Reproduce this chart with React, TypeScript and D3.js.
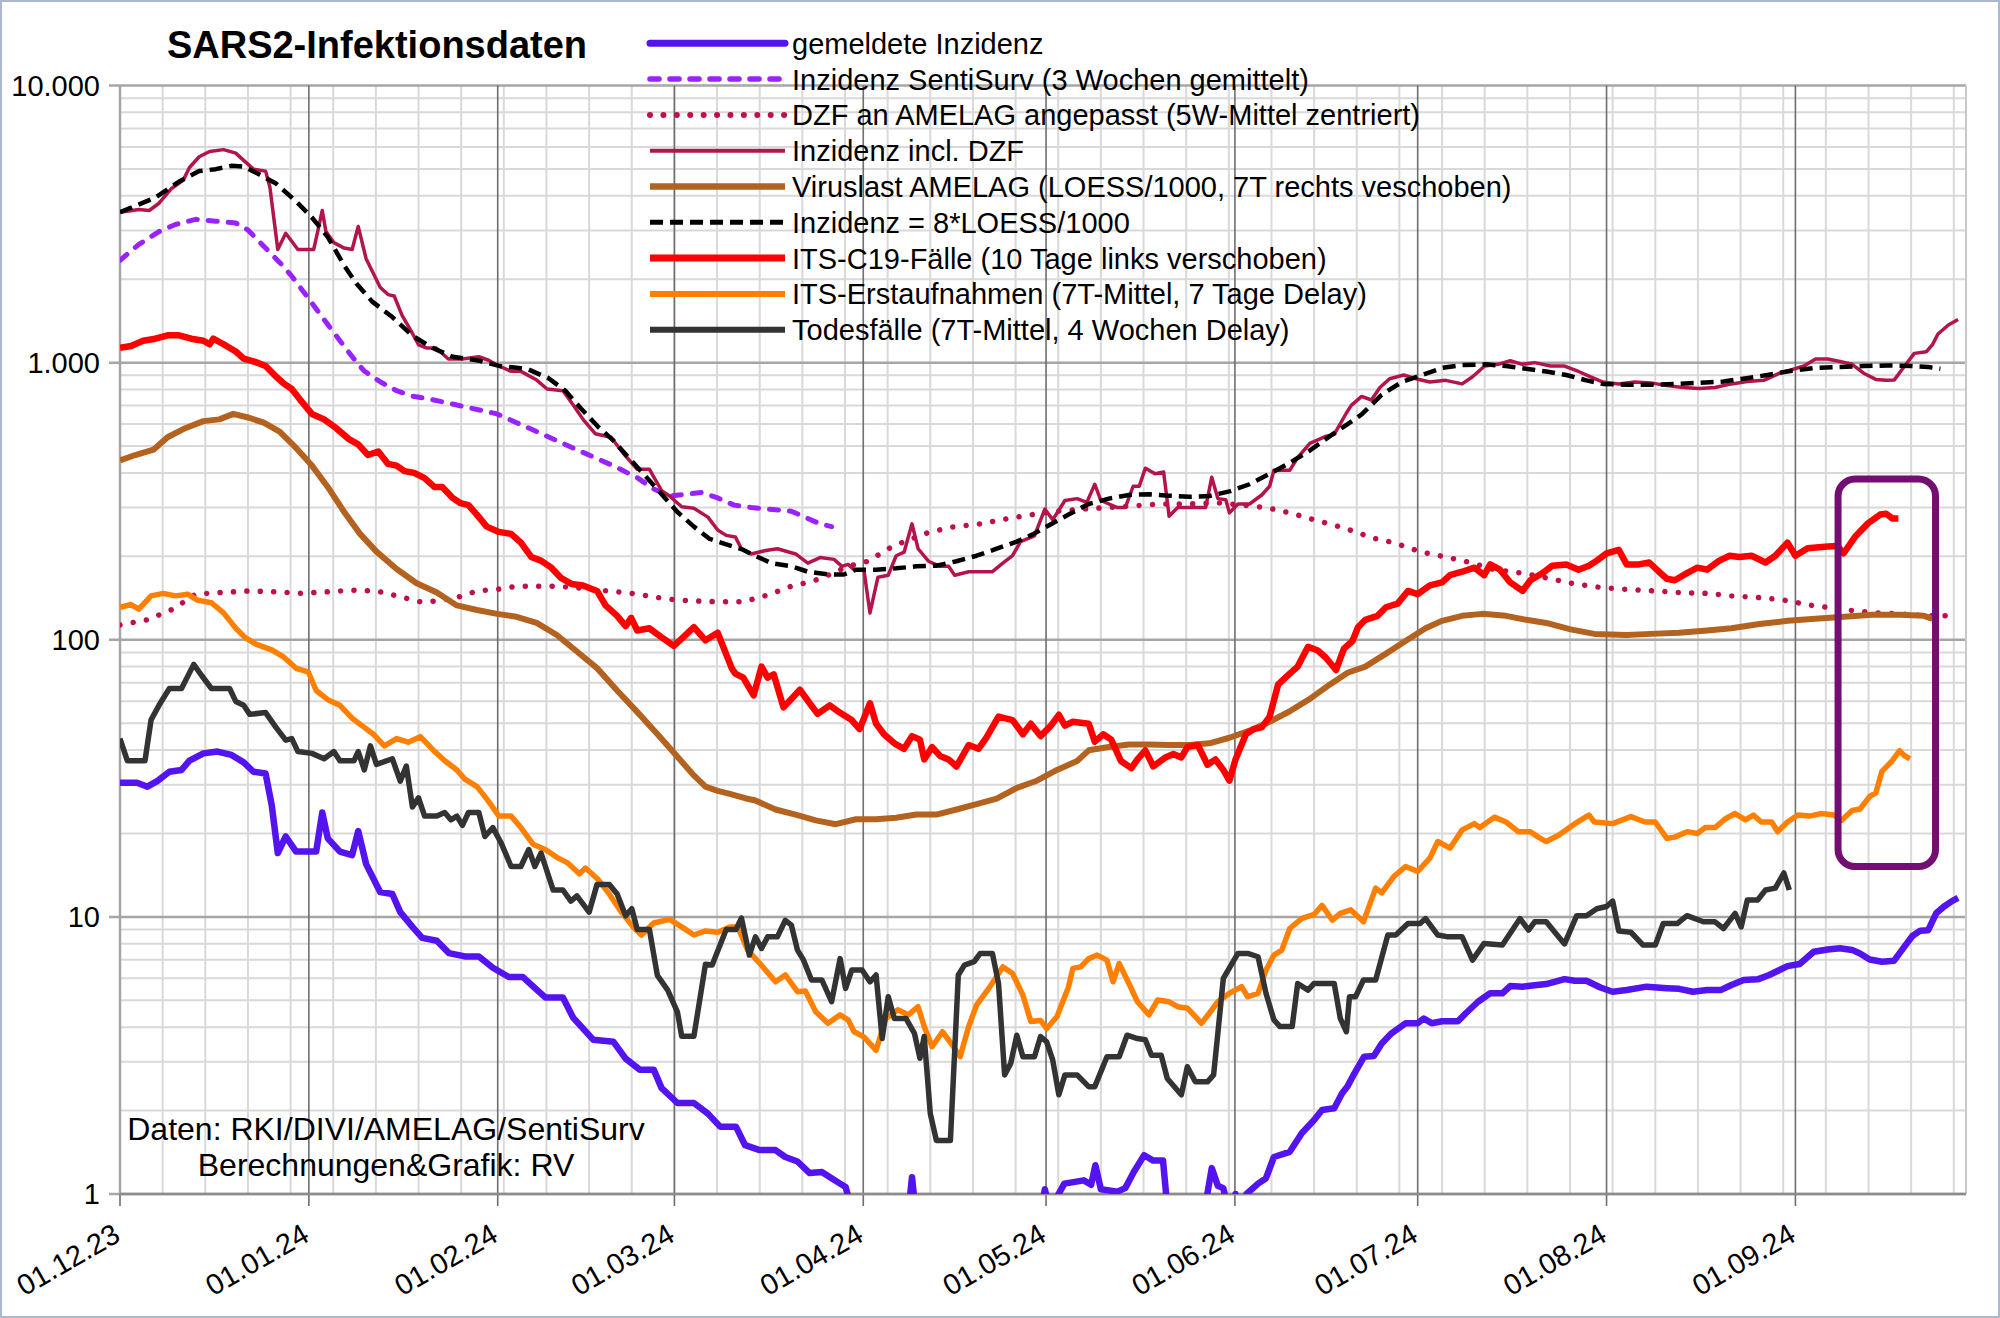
import React from "react";
import * as d3 from "d3";

// ---------- data (day offset from 01.12.2023, value per 100k) ----------
const START = new Date(2023, 11, 1);
const END_DAY = 303;

const yTicks = [1, 10, 100, 1000, 10000];
const yTickLabels = ["1", "10", "100", "1.000", "10.000"];

const titleText = "SARS2-Infektionsdaten";
const footLines = ["Daten: RKI/DIVI/AMELAG/SentiSurv", "Berechnungen&Grafik: RV"];

const legendLabels = [
  "gemeldete Inzidenz",
  "Inzidenz SentiSurv (3 Wochen gemittelt)",
  "DZF an AMELAG angepasst (5W-Mittel zentriert)",
  "Inzidenz incl. DZF",
  "Viruslast AMELAG (LOESS/1000, 7T rechts veschoben)",
  "Inzidenz = 8*LOESS/1000",
  "ITS-C19-Fälle (10 Tage links verschoben)",
  "ITS-Erstaufnahmen (7T-Mittel, 7 Tage Delay)",
  "Todesfälle (7T-Mittel, 4 Wochen Delay)",
];

const gemeldet: [number, number][] = [
  [0,30.5],[2.8,30.5],[4.5,29.5],[6.1,30.9],[8.1,33.4],[10.1,33.9],[11.4,36.6],[13.7,38.9],[16,39.5],[18.3,38.4],
  [20.3,36.1],[21.9,33.4],[23.9,32.9],[24.9,25.3],[25.9,17.0],[27.2,19.5],[28.9,17.2],[32.2,17.2],[33.2,23.8],[34.1,19.2],
  [36.1,17.2],[38.1,16.7],[39.1,20.4],[40.4,15.5],[42.7,12.3],[44.7,12.1],[46,10.4],[48,9.2],[49.6,8.4],[52,8.2],
  [54,7.4],[56.6,7.2],[58.9,7.2],[61.2,6.55],[63.8,6.07],[66.1,6.07],[67.8,5.61],[69.8,5.12],[72.7,5.12],[74.4,4.32],
  [77.7,3.6],[81,3.54],[83,3.08],[85.3,2.81],[87.6,2.81],[88.9,2.41],[91.5,2.13],[94.2,2.13],[96.5,1.95],[98.5,1.75],
  [101.1,1.75],[102.6,1.5],[105,1.44],[107.6,1.44],[109.2,1.36],[111.2,1.31],[113.2,1.19],[115.2,1.2],[116.8,1.14],[118.2,1.09],
  [119.1,1.06],[120,0.9],[121,0.6],[128,0.6],[129.5,0.9],[130,1.15],[130.5,0.9],[131.5,0.6],[150,0.6],[151.3,0.9],
  [151.8,1.04],[152.5,0.9],[153.5,0.95],[155,1.09],[158.2,1.12],[159.4,1.08],[160.1,1.27],[161,1.04],[163.7,1.02],[165,1.05],
  [166.4,1.2],[168.1,1.38],[169.6,1.32],[171.2,1.32],[171.9,0.9],[172.5,0.6],[177.5,0.6],[178.3,0.95],[179.2,1.24],[180.2,1.07],
  [181.1,1.05],[181.8,0.9],[182.5,0.8],[183.1,1.0],[183.7,0.8],[184.5,0.9],[184.9,1.0],[186.8,1.09],[188.1,1.14],[189.4,1.36],
  [192,1.42],[194,1.66],[196,1.85],[197.3,2.01],[199.3,2.04],[200.6,2.31],[201.5,2.45],[202.6,2.72],[204.2,3.13],[205.8,3.15],
  [207.1,3.49],[208.7,3.8],[211,4.13],[213,4.13],[214,4.3],[215.3,4.13],[217,4.2],[219.6,4.2],[220.9,4.49],[222.9,4.94],
  [224.9,5.3],[226.9,5.3],[228.2,5.63],[230.2,5.6],[232.2,5.67],[234.1,5.72],[237.1,5.96],[238.8,5.88],[240.7,5.88],[243,5.56],
  [245,5.37],[247.3,5.45],[250.6,5.6],[253.9,5.53],[255.9,5.5],[258.2,5.37],[260.5,5.45],[262.8,5.45],[264.5,5.68],[266.5,5.92],
  [268.8,5.95],[270.7,6.17],[272.4,6.43],[273.7,6.64],[275.7,6.76],[278,7.48],[280.3,7.63],[282.3,7.7],[284.3,7.6],[285.6,7.38],
  [287.2,7.02],[289.2,6.89],[291.2,6.95],[292.5,7.6],[294.2,8.53],[295.5,8.92],[296.8,8.95],[298.1,10.3],[299.4,10.9],[300.7,11.4],
  [301.7,11.7],
];

const sentiSurv: [number, number][] = [
  [0,2340],[3.1,2670],[6.4,2970],[9.1,3150],[12.4,3290],[15.7,3240],[19,3190],[21,3010],[23.6,2630],[26.2,2300],
  [28.2,2050],[30.9,1710],[33.5,1430],[36.1,1200],[38.8,1004],[40.1,933],[42.7,853],[45.4,792],[48,757],[51.3,735],
  [55.3,703],[59.2,673],[61.9,653],[65.1,607],[68.4,564],[71.7,523],[75,485],[78.3,451],[81.6,418],[85,383],
  [87.6,350],[90.2,330],[92.9,335],[95.5,340],[98.1,325],[100.8,306],[103.6,300],[106.3,296],[110.2,291],[112.9,274],
  [114.9,262],[116.8,256],
];

const dzf: [number, number][] = [
  [0,113],[4.5,118],[8.7,129],[12.4,146],[16.3,148],[21,150],[25.6,149],[29.5,147],[34.1,149],[38.1,151],
  [42.1,150],[45.4,144],[49.3,137],[52,138],[55.3,142],[58.6,150],[61.9,152],[65.1,156],[71.7,156],[75,154],
  [78.3,151],[81.6,149],[85,146],[88.3,142],[91.5,139],[94.8,138],[98.1,137],[102.3,137],[106.3,145],[110.2,156],
  [112.9,161],[114.9,166],[119.5,184],[122.8,192],[126.1,213],[128.7,226],[132.7,244],[136.6,255],[141.2,262],[145.9,274],
  [149.8,283],[153.8,291],[157.7,296],[162.3,300],[167,305],[170.9,309],[175.5,309],[180.2,312],[184.1,306],[188.1,300],
  [192,287],[196,271],[199.3,259],[203.2,244],[205.1,234],[209.1,224],[213.7,207],[217.6,199],[221.6,190],[225.6,179],
  [230.2,174],[234.8,166],[238.8,159],[243.4,154],[247.3,152],[252,150],[255.9,148],[260.5,147],[264.5,144],[269.1,142],
  [273.1,139],[277.7,133],[283.6,128],[288.2,125],[292.2,124],[296.8,122],[301.1,122],
];

const inzDzf: [number, number][] = [
  [0,3490],[3.1,3570],[4.8,3540],[6.4,3760],[8.4,4240],[10.4,4560],[11.4,5060],[13,5530],[14.7,5780],[17,5870],
  [19,5700],[20.3,5370],[21.9,4990],[23.9,4910],[24.6,4300],[25.9,2560],[27.2,2930],[29.2,2560],[31.8,2560],[32.5,3010],
  [33.2,3540],[33.8,2970],[35.1,2710],[36.8,2590],[38.1,2560],[39.1,3100],[40.4,2370],[42.7,1870],[44,1760],[45,1740],
  [46.3,1480],[47.7,1310],[49,1160],[50.3,1130],[51.9,1130],[53.9,1030],[56.2,1030],[58.9,1050],[60.5,1020],[62.2,973],
  [64.2,930],[65.8,930],[68.4,865],[70.1,803],[72.7,791],[74.4,703],[76,624],[78,554],[80.6,538],[82.6,471],
  [84.9,412],[86.9,412],[88.9,345],[90.2,330],[92.2,302],[94.2,298],[96.5,277],[98.1,249],[99.5,238],[101,235],
  [102,213],[103.6,204],[106,210],[107.9,213],[110.9,204],[112.9,189],[114.9,198],[117.2,195],[118.5,184],[119.5,187],
  [120.5,179],[122.1,179],[123.1,125],[124.4,168],[126.1,171],[127.4,201],[128.7,207],[130,262],[131,213],[132.7,192],
  [134.6,184],[136,184],[137,171],[139.3,176],[143.2,176],[144.9,189],[146.5,201],[147.8,226],[150.1,237],[151.8,296],
  [153.1,271],[155.1,318],[157.1,323],[158.7,313],[160,364],[161,318],[163.7,300],[165,300],[166.3,358],[167.3,358],
  [168.3,416],[169.9,397],[171.3,403],[172.2,279],[173.6,300],[175.5,300],[178.2,300],[179.2,386],[180.2,323],[181.5,320],
  [182.1,287],[183.5,309],[185.4,309],[187.4,333],[188.7,358],[189.4,409],[192,409],[193.3,454],[195.3,511],[198,543],
  [199.3,551],[201.3,658],[202.1,701],[203.8,755],[205.4,733],[206.8,813],[208.4,875],[210.7,902],[212.7,875],[215,851],
  [217.6,863],[220.3,838],[222,889],[224,972],[226.2,986],[228.2,1016],[230.2,986],[232.2,1000],[234.8,972],[237.1,972],
  [239.4,929],[241.4,889],[243.4,851],[246,838],[248.6,851],[251.3,845],[253.9,826],[256.6,813],[259.2,806],[261.8,813],
  [264.5,838],[267.1,855],[269.8,863],[272.4,916],[274.4,944],[276.4,972],[278.3,1031],[280.3,1031],[282.3,1009],[284.3,986],
  [286.2,916],[288.2,870],[289.9,863],[291.2,865],[292.5,944],[294.5,1080],[296.5,1095],[297.5,1161],[298.4,1268],[300.1,1367],
  [301.7,1430],
];

const viruslast: [number, number][] = [
  [0,444],[2.5,464],[5.5,485],[7.8,538],[10.7,580],[13.7,615],[16.3,624],[18.6,653],[21,634],[23.6,607],
  [26.2,564],[28.9,492],[31.5,425],[34.1,356],[36.8,289],[39.4,241],[42.1,208],[45.4,180],[48.7,160],[52,148],
  [55.3,133],[58.6,128],[61.9,124],[65.1,121],[68.4,115],[71.7,104],[75,90.7],[78.3,79],[81.6,65.6],[85,54.6],
  [88.3,45.4],[91.5,37.8],[94.2,32.4],[96.1,29.5],[98.1,28.5],[100.1,27.8],[102.6,26.8],[104.3,26.3],[107.6,24.4],[110.9,23.4],
  [114.2,22.3],[117.5,21.6],[120.8,22.5],[124.1,22.5],[127.4,22.8],[130.7,23.4],[134,23.4],[137.3,24.4],[140.6,25.5],[143.9,26.7],
  [147.2,29.2],[150.5,31],[153.8,33.9],[157.1,36.5],[159,39.9],[162.3,41],[165.6,41.9],[168.9,41.9],[172.2,41.7],[175.5,41.7],
  [178.8,42.3],[182.1,44.3],[185.4,47],[188.7,50.6],[192,55.2],[195.3,61.2],[198.6,69],[201.5,76],[204.4,80],[207.8,89.1],
  [211,98.9],[214.3,110],[217,117],[220.3,122],[223.6,124],[227.5,122],[230.8,118],[234.1,115],[238.1,109],[242,105],
  [247.3,104],[251.3,105],[255.9,106],[260.5,108],[264.5,110],[269.1,114],[273.7,117],[278.3,119],[283,121],[287.6,123],
  [292.2,123],[296.1,122],[297.5,119],
];

const loess: [number, number][] = [
  [0,3490],[5.8,3940],[9.7,4500],[13,4910],[15.7,4990],[18.3,5130],[20.3,5100],[22.9,4770],[25.6,4430],[28.9,3820],
  [31.5,3340],[34.1,2840],[36.8,2240],[38.8,1930],[41.4,1660],[44.7,1460],[48,1250],[51.3,1130],[54.6,1050],[58.6,1020],
  [62.2,973],[65.1,959],[67.1,944],[70.4,877],[73.1,791],[75.7,682],[78.4,589],[81,523],[83.6,451],[86.3,388],
  [88.9,335],[91.5,289],[94.2,256],[96.8,231],[99.5,221],[102.1,212],[103.6,204],[106.9,189],[110.2,184],[112.9,176],
  [116.2,172],[118.8,172],[120.8,179],[124.1,179],[127.4,181],[130.7,184],[134,185],[137.3,192],[140.6,201],[143.9,213],
  [147.2,226],[149.8,240],[152.5,259],[155.7,283],[159,309],[162.3,323],[165.6,333],[168.9,335],[172.2,331],[175.5,328],
  [178.8,330],[182.1,343],[185.4,364],[188.7,397],[192,435],[195.3,482],[198.6,543],[201.5,600],[203.8,650],[207.1,766],
  [210.4,851],[213.7,902],[217,957],[220.3,980],[224.2,986],[227.5,972],[230.8,951],[234.1,929],[237.4,902],[240.7,863],
  [243.4,838],[247.3,832],[251.3,832],[255.2,838],[259.2,845],[263.2,855],[266.4,875],[270.4,902],[274.4,935],[278.3,957],
  [282.3,964],[286.2,972],[290.2,977],[294.2,972],[296.8,964],[298.8,951],
];

const itsFaelle: [number, number][] = [
  [0,1130],[1.8,1148],[3.8,1200],[5.8,1220],[7.8,1255],[9.7,1255],[11.7,1220],[13.7,1200],[14.7,1165],[15.3,1220],
  [17,1165],[19,1097],[20.3,1033],[22.3,1004],[23.9,973],[25.6,891],[26.9,840],[28.2,803],[29.8,724],[31.5,653],
  [33.5,624],[35.5,580],[37.5,531],[39.1,507],[40.7,464],[42.4,478],[44,431],[45.4,425],[46.7,406],[48.3,400],
  [50,383],[51.6,356],[52.9,356],[54.6,325],[55.9,311],[57.2,306],[58.5,284],[60.2,256],[62.2,245],[64.2,241],
  [65.8,224],[67.5,199],[69.1,193],[70.8,182],[72.4,167],[74.1,159],[76,157],[78.3,150],[79.7,133],[81.6,122],
  [83,112],[83.9,120],[84.9,108],[86.9,110],[88.9,102],[90.9,95],[92.2,101],[94.2,111],[96.1,99.5],[98.1,106],
  [100.4,79],[101,75.5],[102.3,73],[104,63],[105.3,80],[106.3,73],[107.3,75],[108.9,57],[111.6,66],[113.2,59],
  [114.5,54],[116.5,58],[118.2,54.5],[120.1,51.3],[121.4,47.6],[123.1,59],[124.1,49.8],[125.4,45.6],[127.1,42.3],[128.7,40.4],
  [130,44.9],[131.3,43.6],[132,37],[133.3,41],[134.6,38.1],[136,37],[137.3,34.9],[139.3,41.7],[140.9,40.4],[142.2,44.3],
  [144.2,52.8],[146.5,51.3],[148.2,45.6],[149.5,49.8],[151.1,44.9],[152.8,49],[154.1,53.6],[155.1,49],[156.4,50.6],[159,49.8],
  [160,42.9],[161.4,45.6],[162.7,43.6],[164.3,36.5],[166,34.4],[167,37],[168.3,39.9],[169.6,34.9],[171.6,37.6],[172.9,38.7],
  [174.2,37.6],[175.2,41],[176.9,41.7],[178.5,35.4],[179.8,37],[181.1,33.9],[182.1,31],[183.1,37],[184.8,45.6],[186.1,47.6],
  [187.4,48.3],[188.7,52.8],[190.1,69],[192,75.5],[193.3,80],[195,94.3],[196.6,91.4],[197.9,86.3],[199.6,77.8],[200.9,92.9],
  [202.3,99],[203.2,111],[204.4,118],[206.4,122],[207.8,131],[209.7,135],[211.4,150],[213,146],[215,157],[217,161],
  [218.3,171],[220.3,176],[222.3,182],[223.9,171],[224.9,187],[226.5,179],[228.2,161],[230.2,150],[231.5,164],[233.5,174],
  [235.1,185],[237.4,187],[239.4,179],[241.1,185],[242.4,193],[244,205],[246,211],[247.3,187],[249.3,187],[251,190],
  [252.6,176],[253.9,166],[255.2,164],[257.2,174],[258.9,182],[260.5,179],[262.5,193],[264.2,201],[265.8,199],[267.8,201],
  [270.1,190],[271.7,201],[273.7,224],[275,201],[277,214],[280.3,217],[281.9,218],[282.9,205],[284.9,237],[286.9,263],
  [288.9,283],[289.9,285],[290.9,274],[291.9,274],
];

const itsErst: [number, number][] = [
  [0,131],[1.8,134],[3.1,129],[5.1,144],[7.1,147],[9.1,144],[11.1,146],[12.7,139],[15,136],[17,125],
  [19,110],[20.5,102],[22.3,96.4],[24.9,92],[26.9,86.5],[28.9,78.9],[30.9,76.5],[32.2,65.6],[34.1,60.8],[36.1,58],
  [38.1,52.1],[40.1,48.3],[41.7,45.4],[43.4,41.4],[45.4,44],[47.3,42.7],[49.3,44.7],[51.3,40.2],[53.3,36.6],[55.3,33.9],
  [56.6,31.4],[58.6,29.5],[60.5,26.1],[62.2,23.1],[64.2,23.1],[65.8,21],[67.8,18.3],[69.8,17.5],[71.7,16.4],[73.4,15.7],
  [75.4,14.3],[76.4,15],[78.4,13.7],[80.3,12.1],[82.3,10.4],[84.2,9.2],[85.6,8.6],[87.6,9.5],[90.2,9.8],[92.2,9.2],
  [94.2,8.6],[96.1,8.9],[98.1,8.8],[100.1,9.2],[101.4,9.2],[103,7.6],[105,6.8],[107.6,5.83],[109.2,6.17],[111.2,5.37],
  [112.5,5.4],[114.2,4.55],[116.2,4.13],[118.2,4.43],[119.5,4.25],[120.5,3.85],[122.1,3.69],[124.1,3.3],[125.7,4.3],[127.7,4.62],
  [129.4,4.43],[131,4.74],[132,4.02],[133.3,3.4],[135,3.85],[136.6,3.45],[137.9,3.13],[139.3,4.02],[140.6,4.81],[142.6,5.52],
  [144.9,6.6],[146.5,6.25],[148.2,5.22],[149.5,4.19],[151.1,4.23],[152.1,3.95],[153.8,4.37],[155.7,5.6],[156.4,6.52],[157.7,6.6],
  [159,7.07],[160.4,7.28],[162,6.98],[163,5.83],[164,6.79],[165.6,5.75],[167,4.94],[168.9,4.43],[170.3,5.01],[172.2,4.94],
  [173.6,4.74],[175.2,4.68],[176.5,4.37],[177.5,4.13],[178.8,4.49],[180.2,4.94],[182.1,5.3],[184.1,5.6],[185.1,5.15],[186.8,5.3],
  [188.1,6.43],[189.4,7.28],[190.7,7.59],[192,9.08],[194,9.88],[196,10.2],[197.3,11],[199,9.73],[200.3,10.3],[202,10.6],
  [204.1,9.6],[206.1,12.7],[207.1,12.2],[209.1,14],[211,15.2],[213,14.6],[215,16.3],[216.3,18.7],[218.3,17.7],[220.3,20.6],
  [222.3,21.7],[223.2,21],[225.6,22.9],[227.5,22],[229.5,20.3],[231.5,20.3],[232.8,19.4],[234.1,18.7],[236.1,19.7],[238.8,21.7],
  [241.1,23.3],[242,22],[245,21.7],[248,23],[250.3,22],[252,22],[253.9,19.2],[255.2,19.4],[257.2,20.3],[258.9,20],
  [260.2,21],[261.8,21],[263.5,22.6],[265.1,23.6],[266.8,22.4],[268.1,23.3],[269.4,22],[271.1,22],[272.1,20.3],[273.7,22],
  [275.4,23.3],[277.3,23.1],[279.3,23.6],[281.3,23.3],[282.6,22.3],[284.3,24.2],[285.6,24.5],[287.2,27.2],[288.2,28],[289.2,33.5],
  [290.9,36.6],[292.1,39.8],[292.8,38.3],[293.8,37.2],
];

const todesfaelle: [number, number][] = [
  [0,44],[1.2,36.6],[4.1,36.6],[5.1,51.4],[6.4,58],[8.1,66.7],[10.1,66.7],[12.1,81.5],[13.4,74.3],[15,66.7],
  [18,66.7],[19,59.9],[20.3,58],[21.3,53.8],[23.9,54.6],[25.6,48.3],[27.2,43.4],[28.2,44],[29.2,39.5],[31.5,38.9],
  [33.5,37.2],[35.1,39.5],[36.1,36.6],[38.4,36.6],[39.1,39.5],[40.1,33.9],[41.1,41.4],[42.1,35.5],[44.7,37.2],[46,30.9],
  [47,35],[48,24.9],[49,26.9],[50,23.1],[52,23.1],[53.3,23.8],[54.3,22.4],[55.3,23.1],[56.2,21.4],[57.2,23.8],
  [58.9,23.8],[59.9,19.5],[61.2,21],[62.5,18.6],[64.2,15.2],[65.8,15.2],[67.1,17.5],[68.1,15.2],[69.1,17],[71.1,12.5],
  [72.7,12.5],[74,11.4],[75,11.9],[77,10.4],[78.3,13.1],[80.3,13.1],[81.6,12.1],[83,10.1],[84,10.7],[84.9,9],
  [86.9,9],[88.2,6.15],[89.9,5.44],[91.5,4.53],[92.2,3.71],[94.2,3.71],[96.1,6.75],[97.2,6.7],[99.5,9],[101.1,9],
  [102,9.9],[103.3,7.28],[104.3,8.47],[105.3,7.69],[106.3,8.47],[107.9,8.47],[109.2,9.72],[110.2,9.33],[111.2,7.59],[112.2,6.98],
  [113.5,5.92],[115.2,5.92],[116.8,4.94],[118.2,7.07],[119.1,5.52],[120.1,6.43],[121.8,6.43],[123.1,5.83],[124.1,6.17],[125.1,3.64],
  [126.1,5.15],[127.1,4.3],[129,4.3],[130.4,3.8],[131.3,3.09],[132,3.7],[133,1.95],[134,1.56],[136.3,1.56],[137.6,6.17],
  [138.6,6.7],[140.2,6.89],[141.2,7.38],[143.2,7.38],[144.2,5.75],[145.2,2.69],[146.2,2.96],[147.2,3.74],[148.2,3.13],[150.1,3.13],
  [151.1,3.7],[152.1,3.54],[153.1,3.04],[154.1,2.28],[155.1,2.69],[157.1,2.69],[159,2.44],[160,2.44],[162,3.13],[164,3.13],
  [165.3,3.74],[167,3.64],[168.3,3.6],[169.3,3.17],[170.9,3.17],[171.9,2.61],[174.2,2.28],[175.2,2.88],[176.5,2.54],[178.5,2.54],
  [179.5,2.69],[180.2,3.8],[181.1,6],[183.5,7.38],[185.1,7.38],[186.8,7.18],[188.1,5.3],[189.4,4.25],[190.4,4.02],[192.4,4.02],
  [193.3,5.75],[195,5.44],[196,5.75],[199.3,5.75],[200.3,4.3],[201.3,3.85],[201.8,5.15],[202.8,5.15],[204.1,5.92],[206.1,5.92],
  [208.1,8.6],[209.4,8.6],[211.4,9.46],[213.4,9.46],[214.3,9.86],[216.3,8.6],[218,8.47],[220.3,8.47],[222,6.98],[223.9,8.02],
  [226.9,7.91],[229.8,9.86],[231.2,8.96],[232.2,9.6],[234.1,9.6],[237.1,7.99],[239.1,10.1],[240.7,10.1],[242.4,10.7],[244,10.9],
  [245,11.4],[246,8.9],[248,8.8],[250,7.91],[252,7.91],[253.3,9.46],[255.6,9.46],[257.2,10.1],[259.9,9.6],[261.8,9.6],
  [263.2,9.08],[265.1,10.3],[266.1,9.2],[267.1,11.5],[268.8,11.5],[270.1,12.5],[271.7,12.7],[273.1,14.4],[274,12.5],
];

// annotation box: [day range], [value range]
const boxDays = [282, 298];
const boxValues = [15.2, 380];

// ---------- layout ----------
const W = 2000, H = 1318;
const PL = 120, PR = 1966, PT = 85.5, PB = 1194;
const FONT = "'Liberation Sans', Arial, sans-serif";

const toDate = (d: number) => new Date(START.getTime() + d * 864e5);

type Style = { color: string; width: number; dash?: string; cap?: "round" | "butt" };
const styles: Style[] = [
  { color: "#5314f0", width: 6.5 },
  { color: "#9a22ff", width: 5, dash: "9 11", cap: "round" },
  { color: "#c0104a", width: 5.5, dash: "0.01 13.4", cap: "round" },
  { color: "#b3144d", width: 3.5 },
  { color: "#b4621f", width: 6 },
  { color: "#000000", width: 4.5, dash: "13 7" },
  { color: "#ff0000", width: 6.5 },
  { color: "#ff8000", width: 5.5 },
  { color: "#333333", width: 5.5 },
];
const seriesData = [gemeldet, sentiSurv, dzf, inzDzf, viruslast, loess, itsFaelle, itsErst, todesfaelle];

export default function App() {
  const x = d3.scaleTime().domain([START, toDate(END_DAY)]).range([PL, PR]);
  const y = d3.scaleLog().domain([1, 10000]).range([PB, PT]);
  const line = d3
    .line<[number, number]>()
    .x((d) => x(toDate(d[0])))
    .y((d) => y(d[1]));

  const months = d3.timeMonth.range(START, toDate(END_DAY + 1));
  const fmt = d3.timeFormat("%d.%m.%y");
  const weeks = d3.range(0, END_DAY + 1, 7).map(toDate);
  const minorY: number[] = [];
  for (let k = 0; k < 4; k++) for (let m = 2; m < 10; m++) minorY.push(m * Math.pow(10, k));

  const legX0 = 650, legX1 = 785, legTextX = 792, legY0 = 43.3, legDy = 35.8;

  return (
    <svg width={W} height={H} style={{ display: "block", position: "absolute", left: 0, top: 0 }} fontFamily={FONT}>
      <rect x={0} y={0} width={W} height={H} fill="#ffffff" />
      <defs>
        <clipPath id="plotclip">
          <rect x={PL} y={PT - 4} width={PR - PL} height={PB - PT + 4} />
        </clipPath>
      </defs>

      {/* minor grid */}
      {weeks.map((d, i) => (
        <line key={"wx" + i} x1={x(d)} x2={x(d)} y1={PT} y2={PB} stroke="#d9d9d9" strokeWidth={2} />
      ))}
      {minorY.map((v, i) => (
        <line key={"my" + i} x1={PL} x2={PR} y1={y(v)} y2={y(v)} stroke="#d9d9d9" strokeWidth={2} />
      ))}
      {/* major grid */}
      {yTicks.map((v, i) => (
        <line key={"My" + i} x1={PL - 11} x2={PR} y1={y(v)} y2={y(v)} stroke="#a6a6a6" strokeWidth={2.5} />
      ))}
      {months.map((d, i) => (
        <line key={"Mx" + i} x1={x(d)} x2={x(d)} y1={PT} y2={PB + 12} stroke="#6e6e6e" strokeWidth={1.6} />
      ))}
      <line x1={PR} x2={PR} y1={PT} y2={PB} stroke="#c8c8c8" strokeWidth={2} />
      <line x1={PL} x2={PL} y1={PT} y2={PB} stroke="#a6a6a6" strokeWidth={2.5} />
      <line x1={PL} x2={PR} y1={PB} y2={PB} stroke="#8c8c8c" strokeWidth={2.5} />

      {/* y labels */}
      {yTicks.map((v, i) => (
        <text key={"yl" + i} x={100} y={y(v)} dy="0.36em" textAnchor="end" fontSize={29} fill="#000">
          {yTickLabels[i]}
        </text>
      ))}
      {/* x labels */}
      {months.map((d, i) => (
        <text
          key={"xl" + i}
          transform={`translate(${x(d) + 2},${PB + 46}) rotate(-30)`}
          textAnchor="end"
          fontSize={29}
          fill="#000"
        >
          {fmt(d)}
        </text>
      ))}

      {/* series */}
      <g clipPath="url(#plotclip)">
        {seriesData.map((s, i) => (
          <path
            key={"s" + i}
            d={line(s) || ""}
            fill="none"
            stroke={styles[i].color}
            strokeWidth={styles[i].width}
            strokeDasharray={styles[i].dash}
            strokeLinecap={styles[i].cap || "butt"}
            strokeLinejoin="round"
          />
        ))}
      </g>

      {/* annotation box */}
      <rect
        x={x(toDate(boxDays[0]))}
        y={y(boxValues[1])}
        width={x(toDate(boxDays[1])) - x(toDate(boxDays[0]))}
        height={y(boxValues[0]) - y(boxValues[1])}
        rx={17}
        ry={17}
        fill="none"
        stroke="#730f70"
        strokeWidth={7}
      />

      {/* title */}
      <text x={377} y={58} textAnchor="middle" fontSize={38} fontWeight="bold" fill="#000">
        {titleText}
      </text>

      {/* legend */}
      {legendLabels.map((lab, i) => {
        const yy = legY0 + i * legDy;
        const st = styles[i];
        return (
          <g key={"lg" + i}>
            <line
              x1={legX0}
              x2={legX1}
              y1={yy}
              y2={yy}
              stroke={st.color}
              strokeWidth={i === 0 ? 7 : st.width + 0.5}
              strokeDasharray={st.dash}
              strokeLinecap={st.cap || (i === 0 ? "round" : "butt")}
            />
            <text x={legTextX} y={yy} dy="0.36em" fontSize={29} fill="#000">
              {lab}
            </text>
          </g>
        );
      })}

      {/* footnote */}
      {footLines.map((t, i) => (
        <text key={"fn" + i} x={386} y={1140 + i * 36} textAnchor="middle" fontSize={32} fill="#000">
          {t}
        </text>
      ))}

      <rect x={1} y={1} width={W - 2} height={H - 2} fill="none" stroke="#a9b9d0" strokeWidth={2} />
    </svg>
  );
}
